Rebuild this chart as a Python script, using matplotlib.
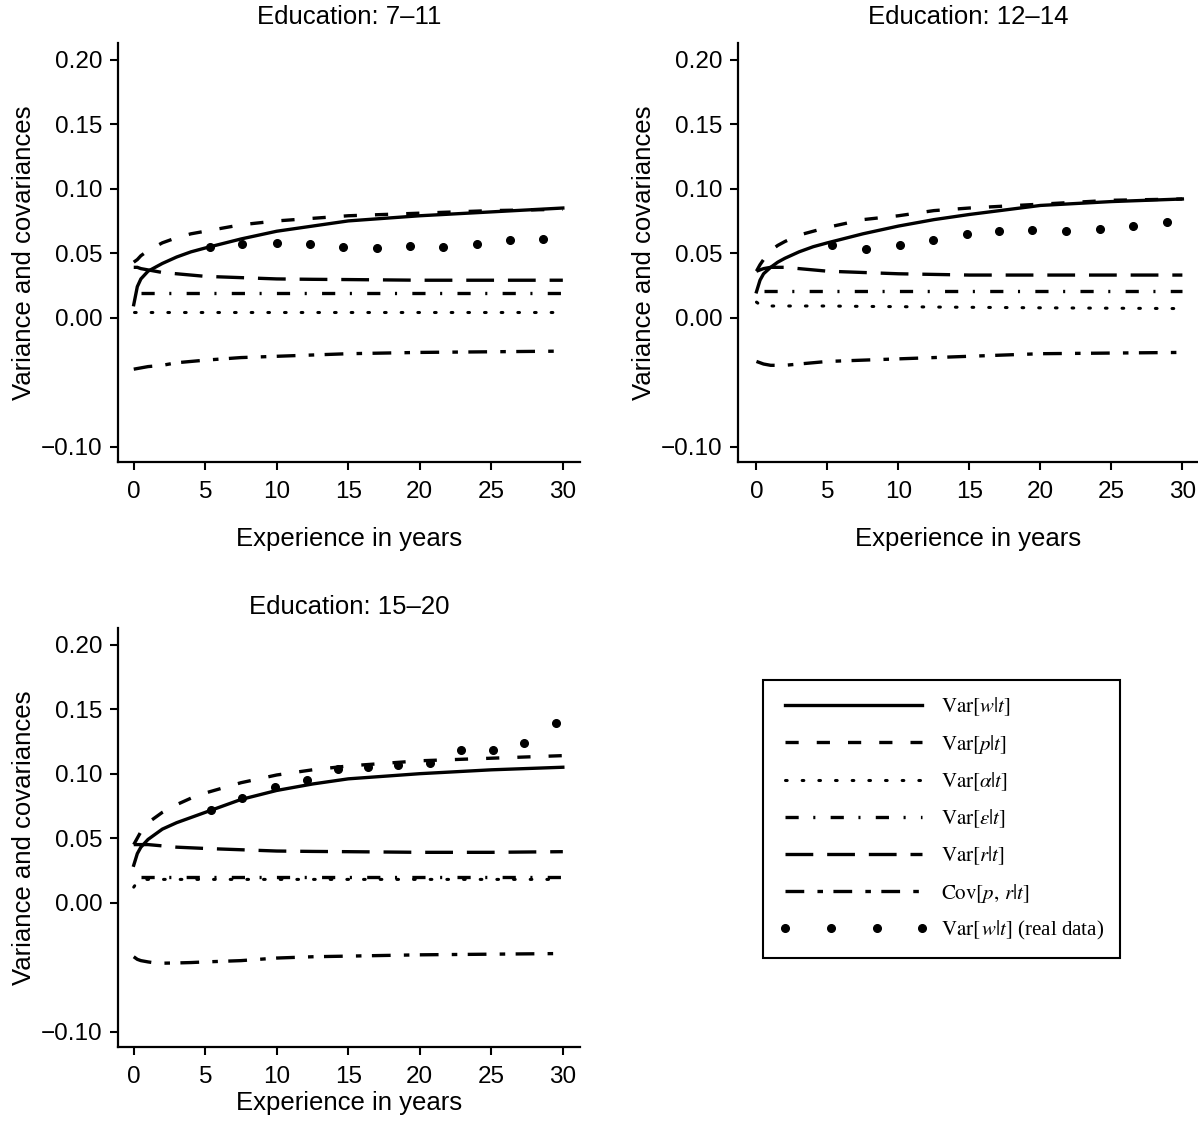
import numpy as np
import matplotlib
matplotlib.use('Agg')
import matplotlib.pyplot as plt

plt.rcParams['font.family'] = ['Liberation Sans', 'DejaVu Sans']
plt.rcParams['mathtext.fontset'] = 'stix'
plt.rcParams['lines.scale_dashes'] = False

x_grid = [0, 0.25, 0.5, 1, 1.5, 2, 3, 4, 5, 7.5, 10, 12.5, 15, 20, 25, 30]

titles = ['Education: 7\u201311', 'Education: 12\u201314', 'Education: 15\u201320']

# Var[w|t]
var_w = [
    [0.010, 0.024, 0.030, 0.036, 0.039, 0.042, 0.047, 0.051, 0.054, 0.061, 0.067, 0.071, 0.075, 0.079, 0.082, 0.085],
    [0.020, 0.029, 0.034, 0.039, 0.043, 0.046, 0.051, 0.055, 0.058, 0.065, 0.071, 0.076, 0.080, 0.087, 0.090, 0.092],
    [0.029, 0.038, 0.043, 0.049, 0.053, 0.057, 0.062, 0.066, 0.070, 0.080, 0.087, 0.092, 0.096, 0.100, 0.103, 0.105],
]
# Var[p|t]
var_p = [
    [0.043, 0.045, 0.048, 0.052, 0.055, 0.058, 0.062, 0.065, 0.067, 0.072, 0.075, 0.077, 0.079, 0.081, 0.083, 0.084],
    [0.036, 0.041, 0.045, 0.052, 0.056, 0.059, 0.064, 0.067, 0.070, 0.076, 0.079, 0.083, 0.085, 0.088, 0.091, 0.092],
    [0.045, 0.050, 0.055, 0.062, 0.066, 0.070, 0.076, 0.081, 0.085, 0.093, 0.099, 0.103, 0.106, 0.110, 0.112, 0.114],
]
# Var[alpha|t]
var_a = [
    [0.004, 0.004, 0.004, 0.004, 0.004, 0.004, 0.004, 0.004, 0.004, 0.004, 0.004, 0.004, 0.004, 0.004, 0.004, 0.004],
    [0.012, 0.010, 0.009, 0.009, 0.009, 0.009, 0.009, 0.009, 0.009, 0.0087, 0.0085, 0.0082, 0.008, 0.0076, 0.0073, 0.007],
    [0.012, 0.016, 0.018, 0.018, 0.018, 0.018, 0.018, 0.018, 0.018, 0.018, 0.018, 0.018, 0.018, 0.018, 0.018, 0.018],
]
# Var[eps|t]
var_e = [
    [0.019, 0.019, 0.019, 0.019, 0.019, 0.019, 0.019, 0.019, 0.019, 0.019, 0.019, 0.019, 0.019, 0.019, 0.019, 0.019],
    [0.021, 0.021, 0.021, 0.021, 0.021, 0.021, 0.021, 0.021, 0.021, 0.021, 0.021, 0.021, 0.021, 0.021, 0.021, 0.021],
    [0.020, 0.020, 0.020, 0.020, 0.020, 0.020, 0.020, 0.020, 0.020, 0.020, 0.020, 0.020, 0.020, 0.020, 0.020, 0.020],
]
# Var[r|t]
var_r = [
    [0.039, 0.039, 0.038, 0.037, 0.036, 0.035, 0.034, 0.033, 0.032, 0.031, 0.030, 0.0297, 0.0295, 0.029, 0.029, 0.029],
    [0.036, 0.037, 0.038, 0.039, 0.039, 0.039, 0.038, 0.037, 0.036, 0.035, 0.034, 0.0335, 0.033, 0.033, 0.033, 0.033],
    [0.045, 0.045, 0.045, 0.045, 0.0445, 0.044, 0.043, 0.0425, 0.042, 0.041, 0.040, 0.0397, 0.0395, 0.039, 0.039, 0.0395],
]
# Cov[p, r|t]
cov_pr = [
    [-0.040, -0.0395, -0.039, -0.038, -0.0375, -0.037, -0.035, -0.034, -0.033, -0.031, -0.030, -0.029, -0.028, -0.027, -0.0265, -0.026],
    [-0.034, -0.035, -0.036, -0.037, -0.037, -0.037, -0.036, -0.035, -0.034, -0.033, -0.032, -0.031, -0.030, -0.028, -0.0275, -0.027],
    [-0.042, -0.044, -0.045, -0.046, -0.0468, -0.047, -0.0468, -0.0465, -0.046, -0.045, -0.043, -0.042, -0.0415, -0.0405, -0.040, -0.0395],
]

# Var[w|t] from the real data
real_x = [
    [5.3, 7.6, 10.0, 12.3, 14.6, 17.0, 19.3, 21.6, 24.0, 26.3, 28.6],
    [5.35, 7.7, 10.1, 12.4, 14.8, 17.1, 19.4, 21.8, 24.2, 26.5, 28.9],
    [5.4, 7.6, 9.9, 12.1, 14.3, 16.4, 18.5, 20.7, 22.9, 25.1, 27.3, 29.5],
]
real_y = [
    [0.055, 0.057, 0.058, 0.057, 0.055, 0.054, 0.0555, 0.055, 0.0574, 0.0605, 0.061],
    [0.056, 0.0535, 0.0566, 0.0605, 0.065, 0.0674, 0.0682, 0.0672, 0.0688, 0.0708, 0.0739],
    [0.072, 0.081, 0.0897, 0.0954, 0.1038, 0.1051, 0.1069, 0.1085, 0.118, 0.118, 0.124, 0.139],
]

labels = [r'$\mathrm{Var}[w|t]$', r'$\mathrm{Var}[p|t]$', r'$\mathrm{Var}[\alpha|t]$',
          r'$\mathrm{Var}[\varepsilon|t]$', r'$\mathrm{Var}[r|t]$', r'$\mathrm{Cov}[p,\,r|t]$',
          r'$\mathrm{Var}[\,w|t]$ (real data)']

W, H = 1198, 1122
fig = plt.figure(figsize=(W / 100, H / 100), dpi=100)

ylo, yhi = -0.112, 0.213
# (left px, top px, right px, x-left, x-right)
boxes = [(118, 43, 580, -1.1, 31.2), (738, 43, 1198, -1.3, 31.1), (118, 628, 580, -1.1, 31.2)]
title_pad = [14, 14, 10]
xlab_pad = [17, 17, 2]

axes = []
for i, (l, t, r, x0, x1) in enumerate(boxes):
    h = 419
    ax = fig.add_axes([l / W, 1 - (t + h) / H, (r - l) / W, h / H])
    xs = np.array(x_grid)
    ax.plot(xs, var_w[i], c='black', lw=2.4, ls='-')
    ax.plot(xs, var_p[i], c='black', lw=2.4, ls=(0, (9.5, 13)))
    ax.plot(xs, var_a[i], c='black', lw=2.2, ls=(0, (1.2, 10.8)), dash_capstyle='round')
    ax.plot(xs[2:], var_e[i][2:], c='black', lw=2.4, ls=(0, (9.5, 10.5, 1.5, 11)))
    ax.plot(xs, var_r[i], c='black', lw=2.4, ls=(0, (20, 10)))
    ax.plot(xs, cov_pr[i], c='black', lw=2.4, ls=(0, (13.5, 9.5, 4, 7.5)))
    ax.plot(real_x[i], real_y[i], 'o', c='black', ms=5.5, ls='none')

    ax.set_xlim(x0, x1)
    ax.set_ylim(ylo, yhi)
    ax.set_xticks([0, 5, 10, 15, 20, 25, 30])
    ax.set_yticks([-0.10, 0.00, 0.05, 0.10, 0.15, 0.20])
    ax.set_yticklabels(['\u22120.10', '0.00', '0.05', '0.10', '0.15', '0.20'])
    for s in ['top', 'right']:
        ax.spines[s].set_visible(False)
    for s in ['left', 'bottom']:
        ax.spines[s].set_linewidth(1.6)
    ax.tick_params(direction='out', length=6, width=1.5, labelsize=17.5, pad=5)
    ax.tick_params(axis='x', pad=8)
    ax.set_title(titles[i], fontsize=18.5, pad=title_pad[i])
    ax.set_ylabel('Variance and covariances', fontsize=18.5, labelpad=4)
    ax.set_xlabel('Experience in years', fontsize=18.5, labelpad=xlab_pad[i])
    axes.append(ax)

leg = fig.legend(axes[0].get_lines(), labels, loc='upper left',
                 bbox_to_anchor=(763 / W, 1 - 680 / H), borderaxespad=0,
                 prop={'family': 'Liberation Serif', 'size': 15},
                 handlelength=7.2, handletextpad=0.6, labelspacing=0.7,
                 numpoints=4, borderpad=0.75, fancybox=False, framealpha=1,
                 edgecolor='black')
leg.get_frame().set_linewidth(1.5)

plt.savefig('out.png', dpi=100)
